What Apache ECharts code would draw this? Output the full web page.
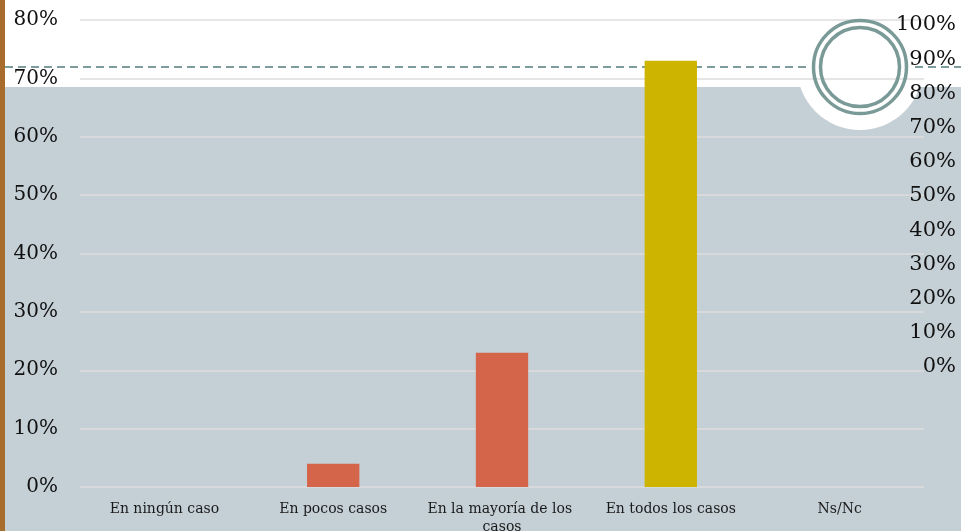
<!DOCTYPE html>
<html>
<head>
<meta charset="utf-8">
<script src="https://cdn.jsdelivr.net/npm/echarts@6/dist/echarts.min.js"></script>
<style>html,body{margin:0;padding:0;background:#fff;}#c{width:961px;height:531px;}</style>
</head>
<body>
<div id="c"></div>
<script>
var categories = ['En ningún caso', 'En pocos casos', 'En la mayoría de los casos', 'En todos los casos', 'Ns/Nc'];
var values = [0, 4, 23, 73, 0];
var leftTicks = { min: 0, max: 80, interval: 10 };
var rightTicks = { min: 0, max: 100, interval: 10 };

var barColors = ['#d4644a', '#d4644a', '#d4644a', '#ccb400', '#d4644a'];
var FONT = 'DejaVu Serif';

var chart = echarts.init(document.getElementById('c'), null, { renderer: 'canvas' });
chart.setOption({
  animation: false,
  backgroundColor: '#ffffff',
  graphic: [
    { type: 'rect', z: -20, silent: true, shape: { x: 5, y: 87, width: 956, height: 444 }, style: { fill: '#c5d0d6' } },
    { type: 'rect', z: -19, silent: true, shape: { x: 0, y: 0, width: 5, height: 531 }, style: { fill: '#a86c2c' } },
    { type: 'circle', z: -18, silent: true, shape: { cx: 860, cy: 67, r: 63 }, style: { fill: '#ffffff' } },
    { type: 'line', z: -17, silent: true, shape: { x1: 5, y1: 67, x2: 961, y2: 67 }, style: { stroke: '#7f9c9c', lineWidth: 2, lineDash: [8, 5] } },
    { type: 'circle', z: -16, silent: true, shape: { cx: 860, cy: 67, r: 52 }, style: { fill: '#ffffff' } },
    { type: 'circle', z: 50, silent: true, shape: { cx: 860, cy: 67, r: 46.5 }, style: { fill: 'none', stroke: '#7a9a98', lineWidth: 3.5 } },
    { type: 'circle', z: 50, silent: true, shape: { cx: 860, cy: 67, r: 39.5 }, style: { fill: 'none', stroke: '#7a9a98', lineWidth: 3.5 } }
  ],
  grid: [
    { left: 80, right: 37, top: 20, bottom: 44, outerBoundsMode: 'none', containLabel: false },
    { left: 958, width: 1, top: 25, bottom: 164, outerBoundsMode: 'none', containLabel: false }
  ],
  xAxis: [
    {
      type: 'category', gridIndex: 0, data: categories,
      axisLine: { show: false }, axisTick: { show: false },
      axisLabel: { interval: 0, margin: 13, color: '#1a1a1a', fontFamily: FONT, fontSize: 14, width: 166, overflow: 'break', lineHeight: 18 }
    },
    { type: 'value', gridIndex: 1, show: false }
  ],
  yAxis: [
    {
      type: 'value', gridIndex: 0, min: leftTicks.min, max: leftTicks.max, interval: leftTicks.interval,
      axisLine: { show: false }, axisTick: { show: false },
      axisLabel: { margin: 22, color: '#111', fontFamily: FONT, fontSize: 20, formatter: '{value}%' },
      splitLine: { lineStyle: { color: '#dcdcdc', width: 1.5 } }
    },
    {
      type: 'value', gridIndex: 1, position: 'left', min: rightTicks.min, max: rightTicks.max, interval: rightTicks.interval,
      axisLine: { show: false }, axisTick: { show: false }, splitLine: { show: false },
      axisLabel: { margin: 2, color: '#111', fontFamily: FONT, fontSize: 21, formatter: '{value}%' }
    }
  ],
  series: [
    {
      type: 'bar', xAxisIndex: 0, yAxisIndex: 0, barWidth: '31%', z: 5,
      data: values.map(function (v, i) { return { value: v, itemStyle: { color: barColors[i] } }; })
    },
    { type: 'line', xAxisIndex: 1, yAxisIndex: 1, data: [] }
  ]
});
</script>
</body>
</html>
